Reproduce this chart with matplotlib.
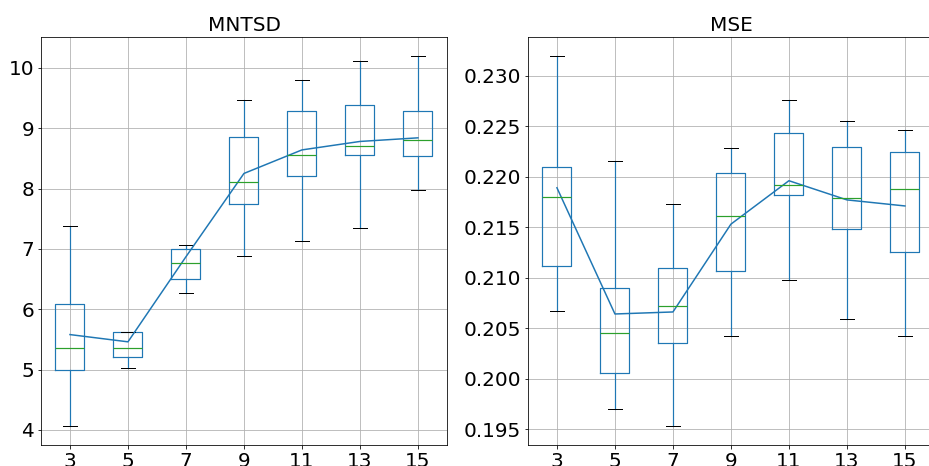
import matplotlib
matplotlib.use("Agg")
import matplotlib.pyplot as plt

windows = ["3", "5", "7", "9", "11", "13", "15"]

# MNTSD box stats
mntsd_whislo = [4.06, 5.03, 6.27, 6.88, 7.13, 7.35, 7.97]
mntsd_q1 = [5.00, 5.21, 6.50, 7.75, 8.21, 8.56, 8.54]
mntsd_med = [5.36, 5.36, 6.76, 8.10, 8.56, 8.71, 8.81]
mntsd_q3 = [6.08, 5.62, 7.00, 8.85, 9.28, 9.39, 9.28]
mntsd_whishi = [7.38, 5.62, 7.06, 9.47, 9.80, 10.12, 10.20]
mntsd_mean = [5.58, 5.46, 6.87, 8.25, 8.64, 8.78, 8.84]

# MSE box stats
mse_whislo = [0.2067, 0.1970, 0.1953, 0.2042, 0.2098, 0.2059, 0.2042]
mse_q1 = [0.2112, 0.2006, 0.2035, 0.2107, 0.2182, 0.2148, 0.2125]
mse_med = [0.2180, 0.2045, 0.2072, 0.2161, 0.2192, 0.2179, 0.2188]
mse_q3 = [0.2210, 0.2090, 0.2110, 0.2204, 0.2243, 0.2229, 0.2224]
mse_whishi = [0.2320, 0.2216, 0.2173, 0.2228, 0.2276, 0.2255, 0.2246]
mse_mean = [0.2189, 0.2064, 0.2066, 0.2153, 0.2196, 0.2177, 0.2171]


def make_stats(lo, q1, med, q3, hi):
    return [dict(whislo=a, q1=b, med=c, q3=d, whishi=e, fliers=[])
            for a, b, c, d, e in zip(lo, q1, med, q3, hi)]


def draw_panel(ax, stats, means, title, ylim):
    pos = list(range(1, len(windows) + 1))
    ax.bxp(stats, positions=pos, widths=0.5, showfliers=False,
           boxprops=dict(color='#1f77b4', lw=1.2),
           whiskerprops=dict(color='#1f77b4', lw=1.2),
           capprops=dict(color='black', lw=1.0),
           medianprops=dict(color='#2ca02c', lw=1.2))
    ax.plot(pos, means, color='#1f77b4', lw=1.5)
    ax.set_xticks(pos)
    ax.set_xticklabels(windows)
    ax.set_xlim(0.5, 7.5)
    ax.set_ylim(*ylim)
    ax.grid(True, color='#b0b0b0', lw=0.8)
    ax.set_axisbelow(True)
    ax.tick_params(labelsize=20)
    ax.set_title(title, fontsize=20)


# reference was rendered at 72 dpi
fig = plt.figure(figsize=(929 / 72, 466 / 72), dpi=72)
ax1 = fig.add_axes([0.0441, 0.045, 0.437, 0.8755])
ax2 = fig.add_axes([0.5683, 0.045, 0.437, 0.8755])

draw_panel(ax1, make_stats(mntsd_whislo, mntsd_q1, mntsd_med, mntsd_q3, mntsd_whishi),
           mntsd_mean, "MNTSD", (3.75, 10.51))
draw_panel(ax2, make_stats(mse_whislo, mse_q1, mse_med, mse_q3, mse_whishi),
           mse_mean, "MSE", (0.19342, 0.23383))
ax2.set_yticks([0.195, 0.200, 0.205, 0.210, 0.215, 0.220, 0.225, 0.230])
ax2.set_yticklabels([f"{v:.3f}" for v in ax2.get_yticks()])

fig.savefig("out.png", dpi=72)
